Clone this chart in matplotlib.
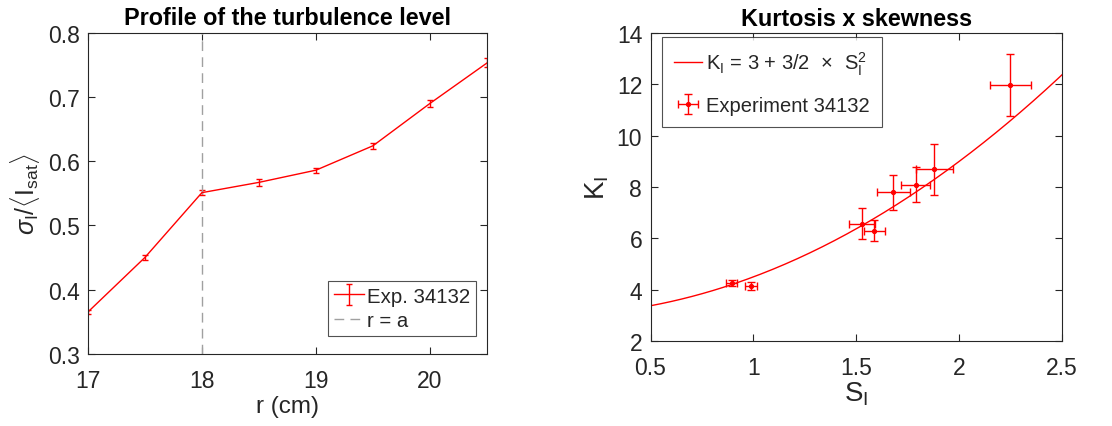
import numpy as np
import matplotlib
matplotlib.use("Agg")
import matplotlib.pyplot as plt

plt.rcParams['font.family'] = ['Liberation Sans', 'DejaVu Sans']
plt.rcParams['mathtext.fontset'] = 'custom'
plt.rcParams['mathtext.rm'] = 'Liberation Sans'
plt.rcParams['mathtext.it'] = 'Liberation Sans:italic'
plt.rcParams['mathtext.bf'] = 'Liberation Sans:bold'

# profile of turbulence level
r_cm = [17.0, 17.5, 18.0, 18.5, 19.0, 19.5, 20.0, 20.5]
turb_level = [0.365, 0.450, 0.551, 0.567, 0.586, 0.624, 0.690, 0.753]
turb_err = [0.003, 0.004, 0.004, 0.005, 0.004, 0.005, 0.006, 0.007]
r_sep = 18.0

# kurtosis vs skewness
skew = [0.894, 0.990, 1.527, 1.588, 1.680, 1.790, 1.879, 2.249]
skew_err = [0.028, 0.030, 0.063, 0.050, 0.080, 0.070, 0.090, 0.100]
kurt = [4.26, 4.14, 6.58, 6.30, 7.79, 8.10, 8.69, 11.99]
kurt_err = [0.10, 0.15, 0.60, 0.40, 0.70, 0.70, 1.00, 1.20]

txt = '#262626'
red = '#ff0000'


def style(ax):
    ax.tick_params(direction='in', top=True, right=True, labelsize=16.5,
                   colors=txt, length=5, width=0.8)
    ax.tick_params(axis='x', pad=11)
    ax.tick_params(axis='y', pad=6)
    for s in ax.spines.values():
        s.set_color('#262626')
        s.set_linewidth(0.8)


def frame(leg):
    leg.get_frame().set_linewidth(0.8)
    for t in leg.get_texts():
        t.set_color(txt)


fig = plt.figure(figsize=(11.12, 4.27), dpi=100)

ax1 = fig.add_axes([0.079, 0.169, 0.359, 0.752])
h_exp = ax1.errorbar(r_cm, turb_level, yerr=turb_err, color=red, lw=1.0,
                     elinewidth=1.0, capsize=2, capthick=1.0,
                     label='Exp. 34132')
h_sep, = ax1.plot([r_sep, r_sep], [0.3, 0.8], color='#a0a0a0', lw=1.0,
                  dashes=(7, 4.5), label='r = a')
ax1.set_xlim(17, 20.5)
ax1.set_ylim(0.3, 0.8)
ax1.set_xticks([17, 18, 19, 20])
ax1.set_yticks([0.3, 0.4, 0.5, 0.6, 0.7, 0.8])
ax1.set_xlabel('r (cm)', fontsize=17.5, color=txt, labelpad=2)
ax1.set_ylabel(r'$\sigma_{\mathrm{I}}/\langle \mathrm{I}_{\mathrm{sat}}\rangle$',
               fontsize=18, color=txt, labelpad=4)
ax1.set_title('Profile of the turbulence level', fontsize=16.8,
              fontweight='bold', pad=6)
style(ax1)
leg1 = ax1.legend([h_exp, h_sep], ['Exp. 34132', 'r = a'], loc='lower right',
                  bbox_to_anchor=(0.972, 0.056), borderaxespad=0,
                  fontsize=14.7, frameon=True, fancybox=False,
                  edgecolor='#262626', handlelength=1.45, borderpad=0.3,
                  labelspacing=0.25, handletextpad=0.15)
frame(leg1)

ax2 = fig.add_axes([0.585, 0.199, 0.370, 0.721])
s_fit = np.linspace(0.5, 2.5, 200)
ax2.plot(s_fit, 3 + 1.5 * s_fit ** 2, color=red, lw=1.0,
         label=r'K$_{\mathrm{I}}$ = 3 + 3/2 $\,\times\,$ S$_{\mathrm{I}}^{2}$')
ax2.errorbar(skew, kurt, xerr=skew_err, yerr=kurt_err, fmt='.', color=red,
             ms=5.5, elinewidth=1.0, capsize=3, capthick=1.0,
             label='Experiment 34132')
ax2.set_xlim(0.5, 2.5)
ax2.set_ylim(2, 14)
ax2.set_xticks([0.5, 1, 1.5, 2, 2.5])
ax2.set_xticklabels(['0.5', '1', '1.5', '2', '2.5'])
ax2.set_yticks([2, 4, 6, 8, 10, 12, 14])
ax2.set_xlabel(r'S$_{\mathrm{I}}$', fontsize=20, color=txt, labelpad=0)
ax2.set_ylabel(r'K$_{\mathrm{I}}$', fontsize=20, color=txt, labelpad=4)
ax2.set_title('Kurtosis x skewness', fontsize=16.8, fontweight='bold', pad=6)
style(ax2)
leg2 = ax2.legend(loc='upper left', bbox_to_anchor=(0.027, 0.987),
                  borderaxespad=0, fontsize=14.5, frameon=True,
                  fancybox=False, edgecolor='#262626', handlelength=1.4,
                  borderpad=0.6, labelspacing=0.95, handletextpad=0.2)
frame(leg2)

fig.savefig('out.png', dpi=100)
